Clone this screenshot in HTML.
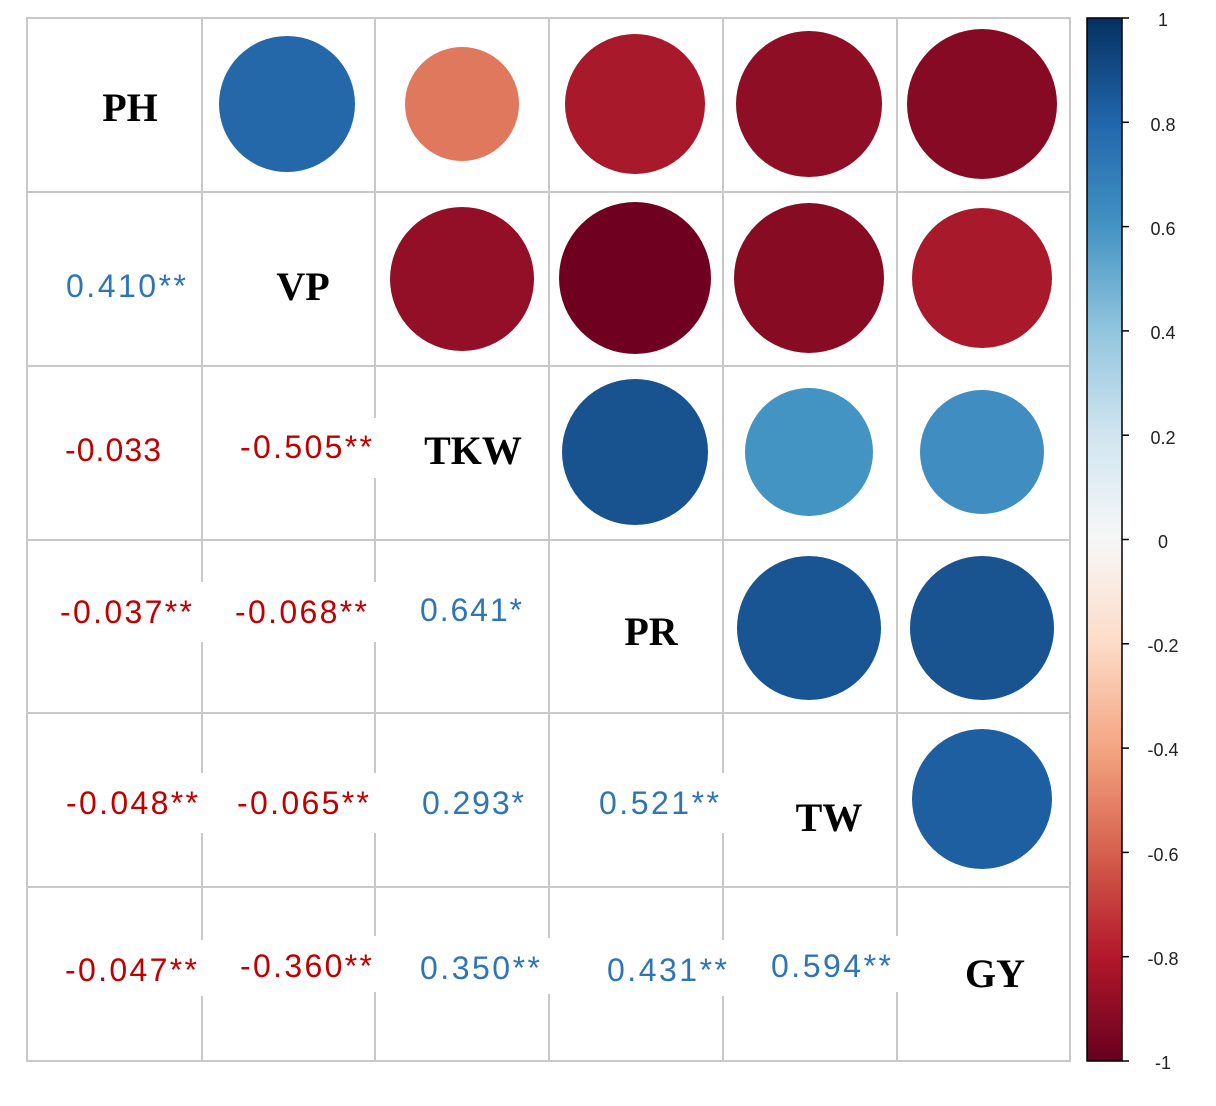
<!DOCTYPE html>
<html><head><meta charset="utf-8"><style>html,body{margin:0;padding:0;background:#fff}svg{display:block}</style></head>
<body>
<svg width="1216" height="1106" viewBox="0 0 1216 1106" xmlns="http://www.w3.org/2000/svg">
<defs>
<linearGradient id="cb" x1="0" y1="1" x2="0" y2="0">
<stop offset="0" stop-color="#67001f"/>
<stop offset="0.1" stop-color="#b2182b"/>
<stop offset="0.2" stop-color="#d6604d"/>
<stop offset="0.3" stop-color="#f4a582"/>
<stop offset="0.4" stop-color="#fddbc7"/>
<stop offset="0.5" stop-color="#f7f7f7"/>
<stop offset="0.6" stop-color="#d1e5f0"/>
<stop offset="0.7" stop-color="#92c5de"/>
<stop offset="0.8" stop-color="#4393c3"/>
<stop offset="0.9" stop-color="#2166ac"/>
<stop offset="1" stop-color="#053061"/>
</linearGradient>
</defs>
<g stroke="#c8c8c8" stroke-width="2" fill="none">
<rect x="27" y="18" width="1043" height="1043"/>
<line x1="202" y1="18" x2="202" y2="1061"/>
<line x1="375" y1="18" x2="375" y2="1061"/>
<line x1="549" y1="18" x2="549" y2="1061"/>
<line x1="723" y1="18" x2="723" y2="1061"/>
<line x1="897" y1="18" x2="897" y2="1061"/>
<line x1="27" y1="192" x2="1070" y2="192"/>
<line x1="27" y1="366" x2="1070" y2="366"/>
<line x1="27" y1="540" x2="1070" y2="540"/>
<line x1="27" y1="713" x2="1070" y2="713"/>
<line x1="27" y1="887" x2="1070" y2="887"/>
</g>
<g>
<circle cx="287" cy="104" r="68" fill="#2468aa"/>
<circle cx="462" cy="104" r="57" fill="#e0785e"/>
<circle cx="635" cy="104" r="70" fill="#a8192c"/>
<circle cx="809" cy="104" r="73" fill="#8e0e26"/>
<circle cx="982" cy="104" r="75" fill="#870a24"/>
<circle cx="462" cy="279" r="72" fill="#920f27"/>
<circle cx="635" cy="278" r="76" fill="#700020"/>
<circle cx="809" cy="278" r="75" fill="#880b24"/>
<circle cx="982" cy="278" r="70" fill="#a8192c"/>
<circle cx="635" cy="452" r="73" fill="#185390"/>
<circle cx="809" cy="452" r="64" fill="#4393c3"/>
<circle cx="982" cy="452" r="62" fill="#3f8dc1"/>
<circle cx="809" cy="628" r="72" fill="#195592"/>
<circle cx="982" cy="628" r="72" fill="#1a5490"/>
<circle cx="982" cy="799" r="70" fill="#1e5fa2"/>
</g>
<g fill="#fff">
<rect x="60" y="255" width="135" height="60"/>
<rect x="55" y="420" width="140" height="60"/>
<rect x="232" y="418" width="150" height="60"/>
<rect x="55" y="582" width="150" height="60"/>
<rect x="230" y="582" width="150" height="60"/>
<rect x="410" y="580" width="125" height="60"/>
<rect x="60" y="773" width="150" height="60"/>
<rect x="232" y="773" width="150" height="60"/>
<rect x="415" y="773" width="120" height="60"/>
<rect x="592" y="773" width="135" height="60"/>
<rect x="60" y="940" width="150" height="56"/>
<rect x="232" y="936" width="150" height="56"/>
<rect x="412" y="938" width="140" height="56"/>
<rect x="600" y="940" width="135" height="56"/>
<rect x="765" y="936" width="135" height="56"/>
</g>
<g font-family="Liberation Serif, serif" font-weight="bold" font-size="40" fill="#000" text-anchor="middle">
<text x="130" y="121">PH</text>
<text x="303" y="300">VP</text>
<text x="473" y="464">TKW</text>
<text x="651" y="645">PR</text>
<text x="829" y="831">TW</text>
<text x="995" y="987">GY</text>
</g>
<g font-family="Liberation Sans, sans-serif" font-size="32" text-anchor="middle" lengthAdjust="spacing">
<text x="126" y="297" fill="#2e75b6" textLength="120">0.410**</text>
<text x="113" y="461" fill="#c00000" textLength="96">-0.033</text>
<text x="306" y="458" fill="#c00000" textLength="132">-0.505**</text>
<text x="126" y="623" fill="#c00000" textLength="132">-0.037**</text>
<text x="301" y="623" fill="#c00000" textLength="132">-0.068**</text>
<text x="471" y="621" fill="#2e75b6" textLength="102">0.641*</text>
<text x="132" y="814" fill="#c00000" textLength="132">-0.048**</text>
<text x="303" y="814" fill="#c00000" textLength="132">-0.065**</text>
<text x="473" y="814" fill="#2e75b6" textLength="102">0.293*</text>
<text x="659" y="814" fill="#2e75b6" textLength="120">0.521**</text>
<text x="131" y="981" fill="#c00000" textLength="132">-0.047**</text>
<text x="306" y="977" fill="#c00000" textLength="132">-0.360**</text>
<text x="480" y="979" fill="#2e75b6" textLength="120">0.350**</text>
<text x="667" y="981" fill="#2e75b6" textLength="120">0.431**</text>
<text x="831" y="977" fill="#2e75b6" textLength="120">0.594**</text>
</g>
<rect x="1087" y="18" width="35" height="1043" fill="url(#cb)" stroke="#000" stroke-width="1.5"/>
<g stroke="#000" stroke-width="1.5">
<line x1="1122" y1="18" x2="1129" y2="18"/>
<line x1="1122" y1="122.3" x2="1129" y2="122.3"/>
<line x1="1122" y1="226.6" x2="1129" y2="226.6"/>
<line x1="1122" y1="330.9" x2="1129" y2="330.9"/>
<line x1="1122" y1="435.2" x2="1129" y2="435.2"/>
<line x1="1122" y1="539.5" x2="1129" y2="539.5"/>
<line x1="1122" y1="643.8" x2="1129" y2="643.8"/>
<line x1="1122" y1="748.1" x2="1129" y2="748.1"/>
<line x1="1122" y1="852.4" x2="1129" y2="852.4"/>
<line x1="1122" y1="956.7" x2="1129" y2="956.7"/>
<line x1="1122" y1="1061" x2="1129" y2="1061"/>
</g>
<g font-family="Liberation Sans, sans-serif" font-size="18" fill="#222" text-anchor="middle">
<text x="1163" y="26">1</text>
<text x="1163" y="131">0.8</text>
<text x="1163" y="235">0.6</text>
<text x="1163" y="339">0.4</text>
<text x="1163" y="444">0.2</text>
<text x="1163" y="548">0</text>
<text x="1163" y="652">-0.2</text>
<text x="1163" y="756">-0.4</text>
<text x="1163" y="861">-0.6</text>
<text x="1163" y="965">-0.8</text>
<text x="1163" y="1069">-1</text>
</g>
</svg>
</body></html>
